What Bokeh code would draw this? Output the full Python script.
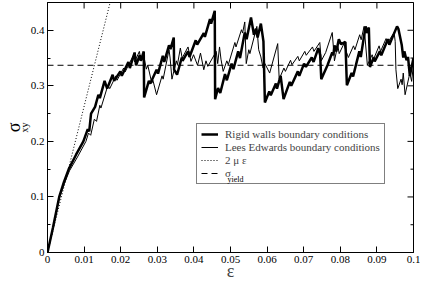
import math
from bokeh.plotting import figure
from bokeh.models import (Range1d, FixedTicker, LinearAxis, Legend, LegendItem, Label, Title)
from bokeh.embed import file_html
from bokeh.resources import INLINE

# ---------------- data ----------------
rw_eps = [0, 0.0015, 0.0032, 0.0045, 0.0058, 0.0078, 0.0098, 0.0110, 0.0114, 0.0119,
          0.0130, 0.0139, 0.0143, 0.0156, 0.0163, 0.0178, 0.0182, 0.0199, 0.0203, 0.0221,
          0.0225, 0.0238, 0.0242, 0.0252, 0.0255, 0.0263, 0.0264, 0.0277, 0.0281, 0.0298,
          0.0302, 0.0315, 0.0319, 0.0332, 0.0336, 0.0345, 0.0346, 0.0354, 0.0367, 0.0369,
          0.0384, 0.0388, 0.0405, 0.0409, 0.0427, 0.0430, 0.0444, 0.0447, 0.0457, 0.0458,
          0.0466, 0.0472, 0.0485, 0.0490, 0.0503, 0.0508, 0.0521, 0.0526, 0.0539, 0.0544,
          0.0556, 0.0564, 0.0570, 0.0574, 0.0583, 0.0590, 0.0594, 0.0606, 0.0610, 0.0624,
          0.0627, 0.0637, 0.0645, 0.0662, 0.0666, 0.0684, 0.0688, 0.0701, 0.0706, 0.0722,
          0.0727, 0.0740, 0.0745, 0.0748, 0.0765, 0.0778, 0.0781, 0.0784, 0.0789, 0.0796,
          0.0802, 0.0814, 0.0818, 0.0831, 0.0835, 0.0852, 0.0856, 0.0869, 0.0873, 0.0878,
          0.0881, 0.0891, 0.0894, 0.0908, 0.0912, 0.0930, 0.0934, 0.0955, 0.0959, 0.0968,
          0.0972, 0.0975, 0.0981, 0.0985, 0.0990, 0.1000]
rw_sigma = [0, 0.045, 0.100, 0.127, 0.150, 0.176, 0.200, 0.222, 0.218, 0.250,
            0.262, 0.284, 0.278, 0.309, 0.295, 0.320, 0.309, 0.326, 0.318, 0.343,
            0.332, 0.360, 0.337, 0.355, 0.345, 0.362, 0.279, 0.309, 0.304, 0.329,
            0.322, 0.354, 0.343, 0.373, 0.366, 0.387, 0.329, 0.320, 0.351, 0.345,
            0.362, 0.352, 0.382, 0.374, 0.395, 0.388, 0.420, 0.412, 0.435, 0.276,
            0.296, 0.287, 0.321, 0.310, 0.340, 0.330, 0.362, 0.350, 0.396, 0.384,
            0.423, 0.392, 0.403, 0.387, 0.412, 0.380, 0.270, 0.290, 0.283, 0.304,
            0.295, 0.318, 0.276, 0.307, 0.300, 0.326, 0.318, 0.340, 0.334, 0.351,
            0.343, 0.368, 0.355, 0.312, 0.337, 0.360, 0.355, 0.373, 0.362, 0.384,
            0.375, 0.379, 0.301, 0.323, 0.317, 0.362, 0.352, 0.407, 0.395, 0.405,
            0.334, 0.351, 0.344, 0.362, 0.355, 0.384, 0.374, 0.407, 0.402, 0.373,
            0.351, 0.362, 0.346, 0.352, 0.318, 0.350]

le_eps = [0, 0.0015, 0.0032, 0.0046, 0.0060, 0.0082, 0.0105, 0.0112, 0.0118, 0.0128,
          0.0134, 0.0143, 0.0146, 0.0165, 0.0170, 0.0187, 0.0190, 0.0208, 0.0212, 0.0234,
          0.0238, 0.0251, 0.0255, 0.0262, 0.0270, 0.0274, 0.0285, 0.0288, 0.0298, 0.0313,
          0.0316, 0.0332, 0.0335, 0.0340, 0.0352, 0.0355, 0.0363, 0.0368, 0.0384, 0.0392,
          0.0399, 0.0410, 0.0418, 0.0427, 0.0433, 0.0438, 0.0461, 0.0465, 0.0470, 0.0474,
          0.0480, 0.0490, 0.0494, 0.0512, 0.0515, 0.0530, 0.0533, 0.0539, 0.0543, 0.0550,
          0.0553, 0.0572, 0.0577, 0.0583, 0.0589, 0.0594, 0.0607, 0.0629, 0.0633, 0.0646,
          0.0650, 0.0664, 0.0668, 0.0684, 0.0688, 0.0703, 0.0707, 0.0724, 0.0728, 0.0744,
          0.0748, 0.0760, 0.0778, 0.0784, 0.0793, 0.0797, 0.0810, 0.0813, 0.0822, 0.0836,
          0.0840, 0.0853, 0.0857, 0.0865, 0.0874, 0.0887, 0.0891, 0.0906, 0.0910, 0.0925,
          0.0929, 0.0947, 0.0950, 0.0952, 0.0957, 0.0966, 0.0969, 0.0972, 0.0977, 0.0990,
          0.0995, 0.1000]
le_sigma = [0, 0.043, 0.097, 0.124, 0.147, 0.172, 0.200, 0.215, 0.211, 0.240,
            0.236, 0.265, 0.260, 0.301, 0.295, 0.318, 0.310, 0.332, 0.325, 0.354,
            0.343, 0.362, 0.348, 0.358, 0.330, 0.337, 0.305, 0.310, 0.284, 0.318,
            0.312, 0.365, 0.350, 0.312, 0.345, 0.338, 0.368, 0.350, 0.370, 0.344,
            0.356, 0.337, 0.359, 0.329, 0.345, 0.335, 0.362, 0.340, 0.370, 0.348,
            0.326, 0.345, 0.338, 0.378, 0.370, 0.401, 0.395, 0.415, 0.340, 0.365,
            0.358, 0.407, 0.365, 0.352, 0.332, 0.340, 0.323, 0.376, 0.312, 0.332,
            0.326, 0.346, 0.338, 0.353, 0.345, 0.362, 0.355, 0.370, 0.362, 0.378,
            0.345, 0.360, 0.396, 0.345, 0.373, 0.358, 0.376, 0.368, 0.351, 0.372,
            0.365, 0.392, 0.383, 0.407, 0.337, 0.356, 0.348, 0.372, 0.362, 0.385,
            0.377, 0.396, 0.380, 0.329, 0.295, 0.312, 0.302, 0.323, 0.284, 0.323,
            0.308, 0.340]

# elastic line 2*mu*eps (end points)
elastic_eps = [0.0, 0.02]
elastic_sigma = [0.0, 0.526]

sigma_yield = 0.337
x_limits = [0.0, 0.1]
y_limits = [0.0, 0.45]

x_ticks = [0.0, 0.01, 0.02, 0.03, 0.04, 0.05, 0.06, 0.07, 0.08, 0.09, 0.1]
x_tick_labels = ["0", "0.01", "0.02", "0.03", "0.04", "0.05", "0.06", "0.07", "0.08", "0.09", "0.1"]
y_ticks = [0.0, 0.1, 0.2, 0.3, 0.4]
y_tick_labels = ["0", "0.1", "0.2", "0.3", "0.4"]
y_minor_ticks = [0.05, 0.15, 0.25, 0.35, 0.45]

x_label = "\u03b5"
y_label = "\u03c3"
y_label_sub = "xy"
legend_labels = ["Rigid walls boundary conditions", "Lees Edwards boundary conditions",
                 "2 \u03bc \u03b5", "\u03c3"]
legend_sub = "yield"

FONT = "Liberation Serif"

# ---------------- figure ----------------
p = figure(width=420, height=283, output_backend="svg", toolbar_location=None,
           x_range=Range1d(*x_limits), y_range=Range1d(*y_limits),
           min_border_left=36, min_border_right=7, min_border_top=2, min_border_bottom=20,
           x_axis_type=None, y_axis_type=None)
p.xgrid.visible = False
p.ygrid.visible = False
p.outline_line_color = "black"
p.outline_line_width = 1
p.background_fill_color = "white"
p.border_fill_color = "white"


def style_axis(ax, ticks, minor, labels):
    ax.ticker = FixedTicker(ticks=ticks, minor_ticks=minor)
    ax.axis_line_color = "black"
    ax.major_tick_in = 6
    ax.major_tick_out = 0
    ax.minor_tick_in = 3
    ax.minor_tick_out = 0
    ax.major_tick_line_color = "black"
    ax.minor_tick_line_color = "black"
    ax.major_label_overrides = {t: l for t, l in zip(ticks, labels)}
    ax.major_label_text_font = FONT
    ax.major_label_text_font_size = "11px"
    ax.major_label_text_color = "black"
    ax.major_label_standoff = 3


def label_only_axis(text, size, standoff):
    ax = LinearAxis(ticker=FixedTicker(ticks=[]), axis_line_color=None,
                    major_tick_line_color=None, minor_tick_line_color=None,
                    major_tick_in=0, major_tick_out=0, minor_tick_in=0, minor_tick_out=0,
                    major_label_standoff=0)
    ax.axis_label = text
    ax.axis_label_text_font = FONT
    ax.axis_label_text_font_size = size
    ax.axis_label_text_font_style = "normal"
    ax.axis_label_text_color = "black"
    ax.axis_label_standoff = standoff
    return ax


xb = LinearAxis()
style_axis(xb, x_ticks, [], x_tick_labels)
xb.axis_label = x_label
xb.axis_label_text_font = FONT
xb.axis_label_text_font_size = "18px"
xb.axis_label_text_font_style = "normal"
xb.axis_label_standoff = -5
p.add_layout(xb, "below")

yl = LinearAxis()
style_axis(yl, y_ticks, y_minor_ticks, y_tick_labels)
p.add_layout(yl, "left")
ysub = Title(text=y_label_sub, align="center", offset=-28, standoff=-5,
             text_font=FONT, text_font_size="10px", text_font_style="normal",
             text_color="black")
p.add_layout(ysub, "left")
ysig = label_only_axis(y_label, "18px", -4)
p.add_layout(ysig, "left")

# mirrored ticks on the top and right edges (half of each dash is clipped by the frame)
p.scatter(x_ticks, [y_limits[1]] * len(x_ticks), marker="dash", angle=math.pi / 2,
          size=12, line_color="black", line_width=1)
p.scatter([x_limits[1]] * len(y_ticks), y_ticks, marker="dash",
          size=12, line_color="black", line_width=1)
p.scatter([x_limits[1]] * len(y_minor_ticks), y_minor_ticks, marker="dash",
          size=6, line_color="black", line_width=1)

r_rw = p.line(rw_eps, rw_sigma, line_color="black", line_width=2.5)
r_le = p.line(le_eps, le_sigma, line_color="black", line_width=1)
r_el = p.line(elastic_eps, elastic_sigma, line_color="black", line_width=1, line_dash="1 2")
r_y = p.line(x_limits, [sigma_yield, sigma_yield], line_color="black", line_width=1,
             line_dash="6 4")

legend = Legend(items=[LegendItem(label=legend_labels[0], renderers=[r_rw]),
                       LegendItem(label=legend_labels[1], renderers=[r_le]),
                       LegendItem(label=legend_labels[2], renderers=[r_el]),
                       LegendItem(label=legend_labels[3], renderers=[r_y])],
                location=(149, 68), orientation="vertical",
                label_text_font=FONT, label_text_font_size="11px",
                glyph_width=17, glyph_height=12, label_height=12, label_standoff=7,
                spacing=1, padding=4, margin=0,
                border_line_color="black", border_line_width=1,
                background_fill_alpha=0)
p.add_layout(legend, "center")

p.add_layout(Label(x=0.0492, y=0.131, text=legend_sub,
                   text_font=FONT, text_font_size="8px", text_align="left",
                   text_baseline="middle", text_color="black"))

open("out.html", "w").write(file_html(p, INLINE))
